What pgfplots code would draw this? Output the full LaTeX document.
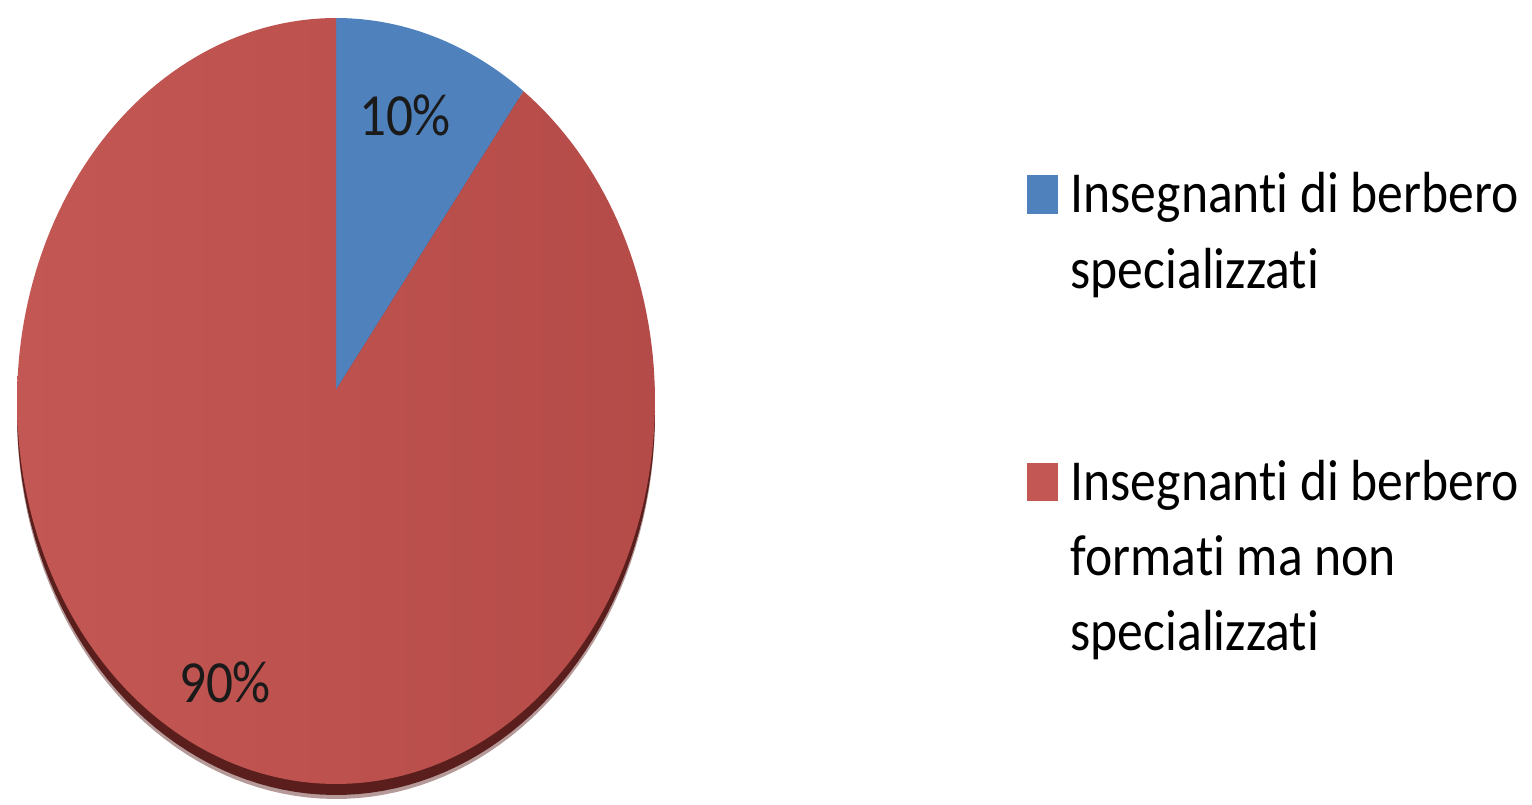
\documentclass[border=0pt]{standalone}
\usepackage{fontspec}
\setmainfont{Carlito}[Ligatures=NoCommon]
\usepackage{graphicx}
\usepackage{pgfplots}
\pgfplotsset{compat=1.18}
\usepackage{pgfplotstable}

\definecolor{sliceblue}{HTML}{4F81BD}
\definecolor{sliceredL}{HTML}{C35753}
\definecolor{sliceredR}{HTML}{B54B48}
\definecolor{pieshadow}{HTML}{5A1F1D}
\definecolor{labeltext}{HTML}{1A1A1A}

% shares of the two groups of teachers, in percent
\pgfplotstableread{
share
10
90
}\shares

% pie geometry in the drawing units of the axis
\def\cx{336}  \def\cy{403}   % centre of the disc
\def\rx{319}  \def\ry{383}   % radii of the disc
\def\ax{336}  \def\ay{414}   % common corner of the slices

\newcommand\lbl[1]{{\fontsize{17}{21}\selectfont\scalebox{0.89}[1]{#1}}}
\newcommand\leg[1]{{\fontsize{16.5}{21}\selectfont\scalebox{0.89}[1]{#1}}}

\begin{document}
\begin{tikzpicture}
\pgfplotstablegetelem{0}{share}\of\shares \let\shareA\pgfplotsretval
\pgfplotstablegetelem{1}{share}\of\shares \let\shareB\pgfplotsretval
\pgfmathsetmacro\angA{90-3.6*\shareA}
\pgfmathsetmacro\angB{\angA-3.6*\shareB}
\begin{axis}[
  width=15.32cm, height=8.04cm, scale only axis,
  xmin=0, xmax=1532, ymin=0, ymax=804,
  hide axis, clip=false,
]
  % keep the whole drawing area in the bounding box
  \path (axis cs:0,0) rectangle (axis cs:1532,804);

  % thin dark rim under the disc
  \addplot[draw=none, fill=pieshadow!45, domain=0:360, samples=160]
    ({\cx+\rx*cos(x)},{\cy-15+\ry*sin(x)}) -- cycle;
  \addplot[draw=none, fill=pieshadow, domain=0:360, samples=160]
    ({\cx+\rx*cos(x)},{\cy-11+\ry*sin(x)}) -- cycle;

  % slice 1
  \addplot[draw=none, fill=sliceblue, domain=\angA:90, samples=40]
    ({\cx+\rx*cos(x)},{\cy+\ry*sin(x)}) -- (axis cs:\ax,\ay) -- cycle;
  % slice 2
  \addplot[draw=none, left color=sliceredL, right color=sliceredR,
           domain=\angB:\angA, samples=200]
    ({\cx+\rx*cos(x)},{\cy+\ry*sin(x)}) -- (axis cs:\ax,\ay) -- cycle;

  % value labels
  \node[text=labeltext] at (axis cs:405,689) {\lbl{\shareA\%}};
  \node[text=labeltext] at (axis cs:225,122) {\lbl{\shareB\%}};

  % legend
  \fill[sliceblue] (axis cs:1027,590) rectangle (axis cs:1058,629);
  \node[anchor=base west, inner sep=0pt] at (axis cs:1070,591) {\leg{Insegnanti di berbero}};
  \node[anchor=base west, inner sep=0pt] at (axis cs:1070,516) {\leg{specializzati}};

  \fill[sliceredL] (axis cs:1027,303) rectangle (axis cs:1058,341);
  \node[anchor=base west, inner sep=0pt] at (axis cs:1070,304) {\leg{Insegnanti di berbero}};
  \node[anchor=base west, inner sep=0pt] at (axis cs:1070,229) {\leg{formati ma non}};
  \node[anchor=base west, inner sep=0pt] at (axis cs:1070,154) {\leg{specializzati}};
\end{axis}
\end{tikzpicture}
\end{document}
